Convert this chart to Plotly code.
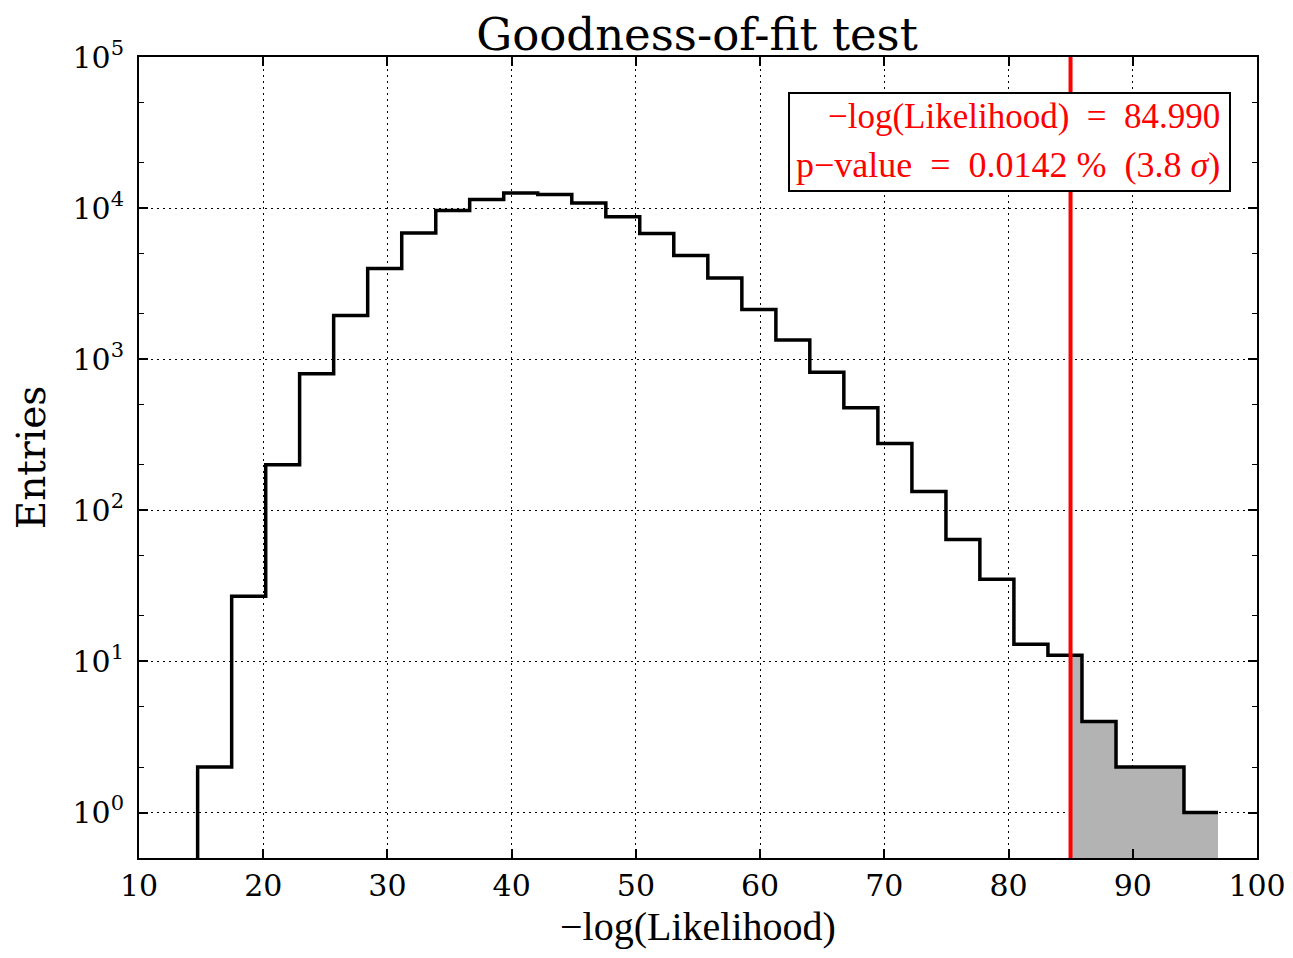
import plotly.graph_objects as go

# ---- data ----
bin_edges = [14.72, 17.46, 20.20, 22.93, 25.67, 28.41, 31.15, 33.89, 36.62, 39.36,
             42.10, 44.84, 47.58, 50.31, 53.05, 55.79, 58.53, 61.27, 64.00, 66.74,
             69.48, 72.22, 74.96, 77.69, 80.43, 83.17, 85.91, 88.65, 91.38, 94.12, 96.86]
counts = [2, 27, 200, 800, 1950, 3980, 6850, 9650, 11400, 12600,
          12300, 10800, 8750, 6780, 4850, 3450, 2130, 1340, 820, 477,
          277, 133, 64, 35, 13, 11, 4, 2, 2, 1]
observed_nll = 84.990
p_value_pct = "0.0142"
sigma = "3.8"
x_ticks = [10, 20, 30, 40, 50, 60, 70, 80, 90, 100]
y_ticks = [1, 10, 100, 1000, 10000, 100000]
y_tick_text = ["10<sup>0</sup>", "10<sup>1</sup>", "10<sup>2</sup>",
               "10<sup>3</sup>", "10<sup>4</sup>", "10<sup>5</sup>"]

FLOOR = 0.1  # below the visible y range (clipped)

# page body has an 8px margin; size the figure to fit the window
W, H = 1277, 942
PL, PR, PT, PB = 131, 1249, 49, 850  # plot area in figure pixels
PW, PH = PR - PL, PB - PT


def px(x):
    return (x - PL) / PW


def py(y):
    return (PB - y) / PH


# step outline
step_x = [bin_edges[0]] + bin_edges
step_y = [FLOOR] + counts + [counts[-1]]

# shaded tail polygon beyond the observed value
poly_x = [observed_nll]
poly_y = [FLOOR]
for i in range(len(counts)):
    lo, hi = bin_edges[i], bin_edges[i + 1]
    if hi <= observed_nll:
        continue
    start = max(lo, observed_nll)
    poly_x += [start, hi]
    poly_y += [counts[i], counts[i]]
poly_x += [bin_edges[-1], observed_nll]
poly_y += [FLOOR, FLOOR]

fig = go.Figure()
fig.add_trace(go.Scatter(x=poly_x, y=poly_y, mode="lines", fill="toself",
                         fillcolor="#b3b3b3", line=dict(width=0, color="#b3b3b3"),
                         hoverinfo="skip", showlegend=False))
fig.add_trace(go.Scatter(x=step_x, y=step_y, mode="lines", line_shape="hv",
                         line=dict(color="black", width=3.5), showlegend=False))
fig.add_trace(go.Scatter(x=[observed_nll, observed_nll], y=[FLOOR, 1e6], mode="lines",
                         line=dict(color="#ff0000", width=4), showlegend=False))

serif = "DejaVu Serif"
cm = "Liberation Serif"

fig.update_layout(
    width=W, height=H,
    template="none",
    paper_bgcolor="white", plot_bgcolor="white",
    margin=dict(l=PL, r=W - PR, t=PT, b=H - PB, autoexpand=False),
    title=dict(text="Goodness-of-fit test", x=(697 - 8) / W, xanchor="center", xref="container",
               y=1 - 26 / H, yanchor="middle", yref="container",
               font=dict(family=serif, size=45, color="black")),
    showlegend=False,
)
fig.update_xaxes(
    range=[10, 100], tickvals=x_ticks, ticktext=[str(v) for v in x_ticks],
    showline=True, linecolor="black", linewidth=2, mirror="allticks",
    ticks="inside", ticklen=9, tickwidth=1.5, tickcolor="black",
    showgrid=True, gridcolor="black", gridwidth=1, griddash="1.5px,4.5px",
    zeroline=False, automargin=False, ticklabeloverflow="allow",
    tickfont=dict(family=serif, size=30, color="black"),
)
fig.update_yaxes(
    type="log", range=[-0.301, 5], tickvals=y_ticks, ticktext=y_tick_text,
    showline=True, linecolor="black", linewidth=2, mirror="allticks",
    ticks="inside", ticklen=9, tickwidth=1.5, tickcolor="black",
    minor=dict(ticks="inside", ticklen=5, tickwidth=1.2, tickcolor="black", showgrid=False),
    showgrid=True, gridcolor="black", gridwidth=1, griddash="1.5px,4.5px",
    zeroline=False, automargin=False, ticklabelstandoff=7, ticklabeloverflow="allow",
    tickfont=dict(family=serif, size=30, color="black"),
    title=dict(text="Entries", font=dict(family=serif, size=39, color="black"), standoff=15),
)

# x-axis label
fig.add_annotation(xref="paper", yref="paper", x=0.5, y=py(918),
                   xanchor="center", yanchor="middle", showarrow=False,
                   text="−log(Likelihood)", font=dict(family=cm, size=40, color="black"))

# text box
fig.add_shape(type="rect", xref="paper", yref="paper",
              x0=px(781), x1=px(1222), y0=py(183), y1=py(85),
              line=dict(color="black", width=2), fillcolor="white", layer="above")
nb = "\u00a0"
line1 = f"−log(Likelihood){nb}{nb}={nb}{nb}{observed_nll:.3f}"
line2 = f"p−value{nb}{nb}={nb}{nb}{p_value_pct}{nb}%{nb}{nb}({sigma}{nb}<i>σ</i>)"
fig.add_annotation(xref="paper", yref="paper", x=px(1214), y=py(109),
                   xanchor="right", yanchor="middle", showarrow=False, text=line1,
                   font=dict(family=cm, size=35, color="#ff0000"))
fig.add_annotation(xref="paper", yref="paper", x=px(1214), y=py(157),
                   xanchor="right", yanchor="middle", showarrow=False, text=line2,
                   font=dict(family=cm, size=36, color="#ff0000"))

fig.write_html("out.html")
